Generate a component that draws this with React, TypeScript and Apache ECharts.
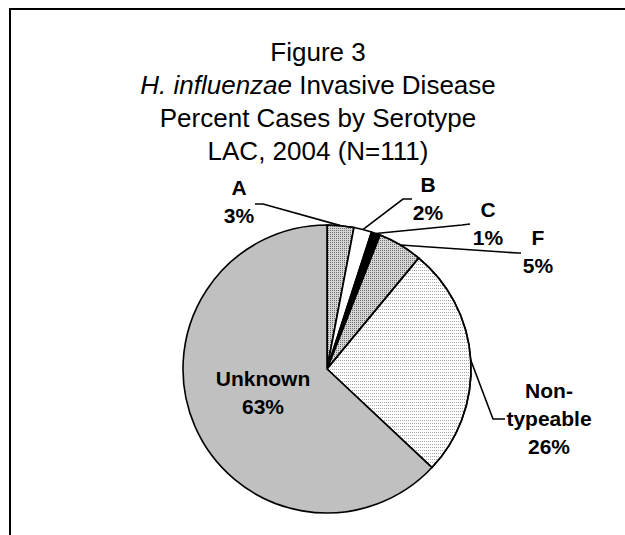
import React, { useEffect, useRef } from 'react';
import * as echarts from 'echarts';

// ---- data ----
const categories: string[] = ['A', 'B', 'C', 'F', 'Non-typeable', 'Unknown'];
const percentValues: number[] = [3, 2, 1, 5, 26, 63];
const titleText = 'Figure 3\n{i|H. influenzae} Invasive Disease\nPercent Cases by Serotype\nLAC, 2004 (N=111)';

// ---- styling (not data) ----
const stippleDark = {
  symbol: 'rect',
  symbolSize: 1,
  color: '#6e6e6e',
  dashArrayX: [1, 1],
  dashArrayY: [1, 1],
  rotation: 0,
};
const stippleLight = {
  symbol: 'rect',
  symbolSize: 1,
  color: '#a8a8a8',
  dashArrayX: [1, 1],
  dashArrayY: [1, 2],
  rotation: 0,
};
const sliceStyles: any[] = [
  { color: '#d6d6d6', decal: stippleDark },
  { color: '#ffffff' },
  { color: '#000000' },
  { color: '#d6d6d6', decal: stippleDark },
  { color: '#ffffff', decal: stippleLight },
  { color: '#c0c0c0' },
];

// label anchor positions and leader-line bends (layout, in px)
const labelSpots: any[] = [
  { x: 239, y: 201.7, bend: [263, 204], end: [255, 204] },
  { x: 428, y: 198.7, bend: [403, 199], end: [412, 199] },
  { x: 488, y: 223.7, bend: [462, 225], end: [470, 224] },
  { x: 538, y: 251.7, bend: [518, 253], end: [521, 253] },
  { x: 549, y: 418.7, bend: [493, 419], end: [505, 419] },
  { x: 263, y: 392.7 },
];

const FONT = "'Liberation Sans', Arial, Helvetica, sans-serif";

export default function App() {
  const ref = useRef<HTMLDivElement>(null);

  useEffect(() => {
    document.body.style.margin = '0';
    if (!ref.current) return;
    const chart = echarts.init(ref.current, null, { renderer: 'svg' });

    const data = categories.map((name, i) => ({
      name,
      value: percentValues[i],
      itemStyle: { ...sliceStyles[i], borderColor: '#000', borderWidth: 1.6 },
      label: i === categories.length - 1 ? { position: 'inside' } : { position: 'outside' },
      labelLine: { show: i !== categories.length - 1 },
    }));

    chart.setOption({
      animation: false,
      backgroundColor: '#ffffff',
      title: {
        text: titleText,
        left: 318,
        top: 35.5,
        padding: 0,
        textAlign: 'center',
        textStyle: {
          fontFamily: FONT,
          fontSize: 26,
          fontWeight: 'normal',
          color: '#000',
          lineHeight: 33,
          rich: {
            i: {
              fontFamily: FONT,
              fontSize: 26,
              fontStyle: 'italic',
              color: '#000',
              lineHeight: 33,
            },
          },
        },
      },
      graphic: [
        {
          type: 'rect',
          shape: { x: 10, y: 9, width: 800, height: 800 },
          style: { fill: 'none', stroke: '#000', lineWidth: 2 },
          silent: true,
          z: 10,
        },
      ],
      series: [
        {
          type: 'pie',
          center: [327, 369],
          radius: 144,
          startAngle: 90,
          clockwise: true,
          avoidLabelOverlap: false,
          data,
          label: {
            show: true,
            fontFamily: FONT,
            fontSize: 21,
            fontWeight: 'bold',
            color: '#000',
            lineHeight: 28,
            align: 'center',
            formatter: (p: any) =>
              `${String(p.name).replace('-', '-\n')}\n${Math.round(p.percent)}%`,
          },
          labelLine: {
            show: true,
            length: 10,
            length2: 10,
            lineStyle: { color: '#000', width: 1.6 },
          },
          labelLayout: (params: any) => {
            const s = labelSpots[params.dataIndex];
            const out: any = { x: s.x, y: s.y, align: 'center', verticalAlign: 'middle' };
            if (s.bend && params.labelLinePoints && params.labelLinePoints[0]) {
              out.labelLinePoints = [params.labelLinePoints[0], s.bend, s.end];
            }
            return out;
          },
          emphasis: { disabled: true },
        },
      ],
    });

    return () => {
      chart.dispose();
    };
  }, []);

  return <div ref={ref} style={{ width: 625, height: 535 }} />;
}
